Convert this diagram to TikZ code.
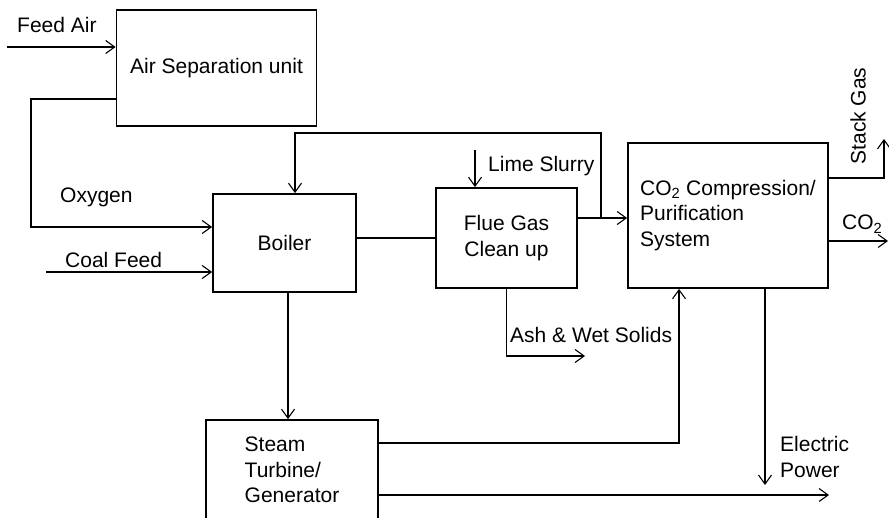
\documentclass[tikz,border=0pt]{standalone}
\usepackage{fontspec}
\setmainfont{Liberation Sans}
\usetikzlibrary{arrows.meta,calc}

\begin{document}
\begin{tikzpicture}[x=1pt,y=-1pt,
    unit/.style={rectangle, draw, line width=1.8pt, inner sep=0pt, align=left, font=\fontsize{21}{25.5}\selectfont},
    flow/.style={line width=1.1pt, -{Straight Barb[length=9pt,width=13pt,line width=1.1pt]}},
    link/.style={line width=1.1pt},
    lbl/.style={inner sep=0pt, anchor=base west, font=\fontsize{21}{25.5}\selectfont}
  ]
  \clip (0,0) rectangle (889,518);

  % process units
  \node [unit, minimum width=200pt, minimum height=116pt] (asu) at (216.5,68) {Air Separation unit};
  \node [unit, minimum width=143pt, minimum height=98pt] (boiler) at (284.5,243) {Boiler};
  \node [unit, align=center, minimum width=141pt, minimum height=100pt] (fgc) at (506.5,238) {Flue Gas\\Clean up};
  \node [unit, minimum width=200pt, minimum height=145pt] (co2) at (728,215.5) {CO\textsubscript{2} Compression/\\Purification\\System};
  \node [unit, minimum width=172pt, minimum height=100pt] (turb) at (292,470) {Steam\\Turbine/\\Generator};

  % free ends and bends
  \coordinate (feedin) at (7,47);
  \coordinate (oxyT) at (31,99);
  \coordinate (oxyB) at (31,227);
  \coordinate (coalin) at (46,272);
  \coordinate (gasout) at (601,218);
  \coordinate (recyc) at (295,133);
  \coordinate (lime) at (475,150);
  \coordinate (stackB) at (884,178);
  \coordinate (stack) at (884,139);
  \coordinate (co2out) at (888,241);
  \coordinate (ash) at (585,356);
  \coordinate (elecin) at (679,443);
  \coordinate (power) at (765,485);
  \coordinate (turbout) at (829,495);

  % streams
  \draw [flow] (feedin) -- (feedin -| asu.west);
  \draw [flow] (asu.west |- oxyT) -- (oxyT) -- (oxyB) -- (oxyB -| boiler.west);
  \draw [flow] (coalin) -- (coalin -| boiler.west);
  \draw [link] (boiler.east |- fgc.west) -- (fgc.west);
  \draw [flow] (fgc.east |- gasout) -- (co2.west |- gasout);
  \draw [flow] (gasout) |- (recyc) -- (recyc |- boiler.north);
  \draw [flow] (lime) -- (lime |- fgc.north);
  \draw [flow] (co2.east |- stackB) -- (stackB) -- (stack);
  \draw [flow] (co2.east |- co2out) -- (co2out);
  \draw [flow] (fgc.south) |- (ash);
  \draw [flow] ([xshift=3.5pt]boiler.south) -- ([xshift=3.5pt]boiler.south |- turb.north);
  \draw [flow] (turb.east |- elecin) -- (elecin) -- (elecin |- co2.south);
  \draw [flow] (power |- co2.south) -- (power);
  \draw [flow] (turb.east |- turbout) -- (turbout);

  % stream labels
  \node [lbl] (lfeed) at (17,33) {Feed Air};
  \node [lbl] (loxy) at (60,203) {Oxygen};
  \node [lbl] (lcoal) at (65,268) {Coal Feed};
  \node [lbl] (llime) at (488,172) {Lime Slurry};
  \node [lbl, anchor=center, rotate=90] (lstack) at (858,116) {Stack Gas};
  \node [lbl] (lco2) at (842,230) {CO\textsubscript{2}};
  \node [lbl] (lash) at (510,343) {Ash \& Wet Solids};
  \node [lbl, anchor=west, align=left] (lpower) at (780,457) {Electric\\Power};
\end{tikzpicture}
\end{document}
